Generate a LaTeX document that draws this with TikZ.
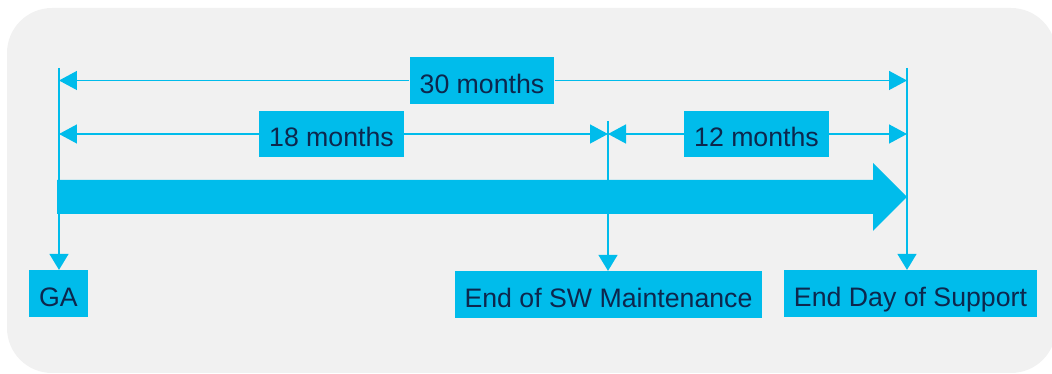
\documentclass[tikz,border=0pt]{standalone}
\usepackage{fontspec}
\setmainfont{Liberation Sans}
\usepackage{tikz}
\usetikzlibrary{arrows.meta}

\definecolor{ciscoblue}{RGB}{0,188,235}
\definecolor{navytext}{RGB}{13,39,77}
\definecolor{panelgray}{RGB}{241,241,241}

\begin{document}
\begin{tikzpicture}[x=0.02cm, y=0.02cm]
    \tikzstyle{tag} = [rectangle, fill=ciscoblue, text=navytext, inner xsep=0.2cm, inner ysep=0pt, text height=14.5pt, text depth=0pt, minimum height=0.93cm, font=\fontsize{15.2}{18}\selectfont]
    \tikzstyle{dimline} = [draw=ciscoblue, line width=0.8pt]
    \tikzstyle{tip} = [-{Triangle[length=0.36cm, width=0.38cm]}]
    \tikzstyle{droptip} = [-{Triangle[length=0.32cm, width=0.38cm]}]

    \useasboundingbox (0,0) rectangle (1052,374);

    % Panel
    \fill[panelgray, rounded corners=0.9cm] (7,1) rectangle (1056,366);

    % Milestone lines
    \coordinate (tga) at (59,306);
    \coordinate (tsw) at (608,253);
    \coordinate (tend) at (907,306);

    % Big timeline arrow
    \fill[ciscoblue] (57,160) -- (873,160) -- (873,143) -- (tend |- 0,177)
        -- (873,211) -- (873,194) -- (57,194) -- cycle;

    % Labels
    \node[tag] (lbl30) at (482,293.5) {30 months};
    \node[tag] (lbl18) at (331.5,240) {18 months};
    \node[tag] (lbl12) at (756.5,240) {12 months};
    \node[tag] (ga) at (58.5,80.5) {GA};
    \node[tag] (sw) at (608.5,79.5) {End of SW Maintenance};
    \node[tag] (eds) at (910.5,80.5) {End Day of Support};

    % Drops
    \draw[dimline, droptip] (tga) -- (tga |- ga.north);
    \draw[dimline, droptip] (tsw) -- (tsw |- sw.north);
    \draw[dimline, droptip] (tend) -- (tend |- eds.north);

    % Spans
    \draw[dimline, tip] (lbl30.west) -- (tga |- lbl30);
    \draw[dimline, tip] (lbl30.east) -- (tend |- lbl30);
    \draw[dimline, tip] (lbl18.west) -- (tga |- lbl18);
    \draw[dimline, tip] (lbl18.east) -- (tsw |- lbl18);
    \draw[dimline, tip] (lbl12.west) -- (tsw |- lbl12);
    \draw[dimline, tip] (lbl12.east) -- (tend |- lbl12);

\end{tikzpicture}
\end{document}
